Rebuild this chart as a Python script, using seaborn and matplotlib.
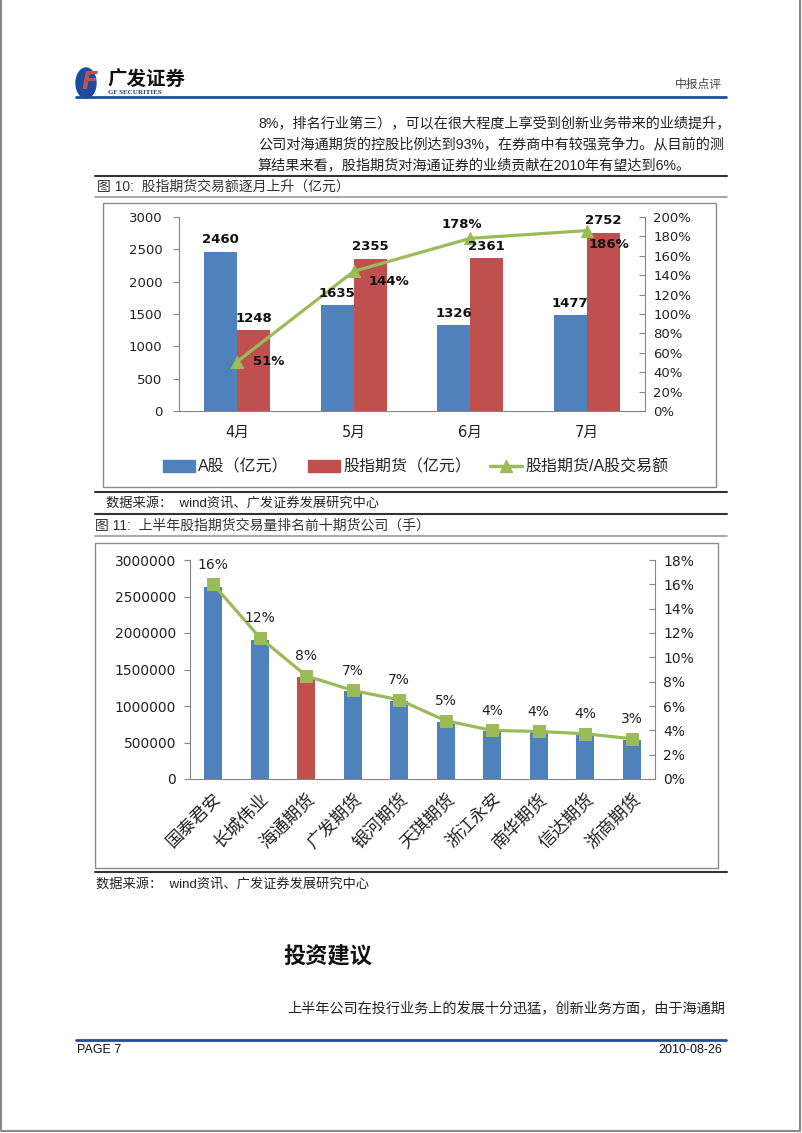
import numpy as np
import pandas as pd
import matplotlib
matplotlib.use('Agg')
import matplotlib.pyplot as plt
import seaborn as sns
from matplotlib.patches import Patch, Rectangle, Ellipse
from matplotlib.lines import Line2D
from matplotlib.ticker import PercentFormatter

# chart 10 data
months = ['4月', '5月', '6月', '7月']
a_share = [2460, 1635, 1326, 1477]
futures = [1248, 2355, 2361, 2752]
ratio = [0.51, 1.44, 1.78, 1.86]
ratio_labels = ['51%', '144%', '178%', '186%']

# chart 11 data
companies = ['国泰君安', '长城伟业', '海通期货', '广发期货', '银河期货',
             '天琪期货', '浙江永安', '南华期货', '信达期货', '浙商期货']
volume = [2634000, 1905000, 1395000, 1199000, 1062000,
          775000, 652000, 638000, 606000, 538000]
share = [0.160, 0.1163, 0.0848, 0.0728, 0.0651,
         0.0479, 0.0399, 0.0391, 0.0372, 0.0331]
share_labels = ['16%', '12%', '8%', '7%', '7%', '5%', '4%', '4%', '4%', '3%']

BLUE = '#4F81BD'
RED = '#C0504D'
GREEN = '#9BBB59'
AXIS = '#868686'
NAVY = '#1F4E9C'

W, H = 802, 1133

sns.set_style('white')
plt.rcParams['font.family'] = ['DejaVu Sans', 'Noto Sans CJK SC']
CJK = ['Liberation Sans', 'Noto Sans CJK SC']

fig = plt.figure(figsize=(W / 100, H / 100), dpi=100)


def fx(x):
    return x / W


def fy(y):
    return 1 - y / H


def hline(y, x0, x1, color, lw):
    fig.add_artist(Line2D([fx(x0), fx(x1)], [fy(y), fy(y)], transform=fig.transFigure,
                          color=color, lw=lw))


def text(x, y, s, **kw):
    kw.setdefault('family', CJK)
    kw.setdefault('va', 'center')
    fig.text(fx(x), fy(y), s, **kw)


# page frame
fig.add_artist(Line2D([fx(1), fx(1), fx(800), fx(800)], [fy(0), fy(1131), fy(1131), fy(0)],
                      transform=fig.transFigure, color='#8a8a8a', lw=1.5))

# header
fig.add_artist(Ellipse((fx(86), fy(83)), 20 / W, 30 / H, transform=fig.transFigure,
                       color='#1B4BA0'))
text(90, 82, 'F', color=RED, fontsize=17, fontweight='bold', style='italic', ha='center',
     family='DejaVu Sans')
text(107, 80, '广发证券', fontsize=14, fontweight='bold', color='#111111')
text(108, 93, 'GF SECURITIES', fontsize=5, fontweight='bold', color='#1B3A7A',
     family='Liberation Serif')
text(722, 85, '中报点评', fontsize=8.5, color='#444444', ha='right')
hline(97, 76, 726, NAVY, 2)

# paragraph
text(258, 124, '8%，排名行业第三），可以在很大程度上享受到创新业务带来的业绩提升，', fontsize=10.2, color='#222222')
text(258, 145, '公司对海通期货的控股比例达到93%，在券商中有较强竞争力。从目前的测', fontsize=10.2, color='#222222')
text(258, 166, '算结果来看，股指期货对海通证券的业绩贡献在2010年有望达到6%。', fontsize=10.2, color='#222222')

# figure 10 caption and frame
hline(176, 95, 727, '#333333', 1.5)
text(97, 187, '图 10:  股指期货交易额逐月上升（亿元）', fontsize=10, color='#333333')
hline(197, 95, 727, '#999999', 1.2)
fig.add_artist(Rectangle((fx(103), fy(487)), (716 - 103) / W, (487 - 203) / H,
                         transform=fig.transFigure, fill=False, ec='#8c8c8c', lw=1))

# chart 10
ax1 = fig.add_axes([fx(179), fy(411), (645 - 179) / W, (411 - 217) / H])
df1 = pd.DataFrame({'month': months * 2,
                    'value': a_share + futures,
                    'series': ['A股（亿元）'] * 4 + ['股指期货（亿元）'] * 4})
sns.barplot(data=df1, x='month', y='value', hue='series', palette=[BLUE, RED],
            width=0.57, gap=0, saturation=1, ax=ax1, legend=False, edgecolor='none')
ax1.set_xlim(-0.5, 3.5)
ax1.set_ylim(0, 3000)
ax1.set_yticks(range(0, 3001, 500))
ax1.set_xlabel('')
ax1.set_ylabel('')

ax1b = ax1.twinx()
sns.lineplot(x=np.arange(len(months)), y=ratio, ax=ax1b, color=GREEN, marker='^',
             markersize=9, markeredgecolor=GREEN, linewidth=2.3)
ax1b.set_ylim(0, 2.0)
ax1b.set_yticks(np.arange(0, 2.01, 0.2))
ax1b.yaxis.set_major_formatter(PercentFormatter(1.0, decimals=0))

# bar value labels drawn on the twin axes so they sit above the line
for c in ax1.containers:
    for p in c.patches:
        h = p.get_height()
        ax1b.annotate(f'{h:.0f}', (p.get_x() + p.get_width() / 2, h), xycoords=ax1.transData,
                      xytext=(0, 4), textcoords='offset points', ha='center', va='bottom',
                      fontsize=9.5, fontweight='bold', color='#111111')

ratio_offsets = [(11, 0, 'left'), (11, -7, 'left'), (-6, 10, 'center'), (1, -10, 'left')]
for i, (v, lab) in enumerate(zip(ratio, ratio_labels)):
    dx, dy, ha = ratio_offsets[i]
    ax1b.annotate(lab, (i, v), xytext=(dx, dy), textcoords='offset points', ha=ha, va='center',
                  fontsize=9.5, fontweight='bold', color='#111111')

for ax in (ax1, ax1b):
    for s in ax.spines.values():
        s.set_visible(False)
        s.set_color(AXIS)
ax1.spines['left'].set_visible(True)
ax1.spines['bottom'].set_visible(True)
ax1b.spines['right'].set_visible(True)
ax1.set_xticks(np.arange(-0.5, 4, 1), minor=True)
ax1.tick_params(axis='x', which='major', length=0, pad=10, labelsize=10.5, labelcolor='#222222')
ax1.tick_params(axis='x', which='minor', length=5, color=AXIS, direction='out')
ax1.tick_params(axis='y', length=4, color=AXIS, direction='out', labelsize=9.5, labelcolor='#222222', pad=8)
ax1b.tick_params(axis='y', length=4, color=AXIS, direction='in', labelsize=9.5, labelcolor='#222222', pad=6)

handles = [Patch(color=BLUE), Patch(color=RED),
           Line2D([], [], color=GREEN, marker='^', lw=2.5, markersize=8)]
fig.legend(handles, ['A股（亿元）', '股指期货（亿元）', '股指期货/A股交易额'], loc='center',
           bbox_to_anchor=(fx(416), fy(467)), ncol=3, frameon=False,
           handlelength=2.0, handletextpad=0.2, columnspacing=1.2, prop={'family': CJK, 'size': 11.5})

# source + figure 11 caption
hline(492, 95, 727, '#333333', 1.5)
text(106, 503, '数据来源：  wind资讯、广发证券发展研究中心', fontsize=9.5, color='#222222')
hline(514, 95, 727, '#333333', 1.5)
text(95, 526, '图 11:  上半年股指期货交易量排名前十期货公司（手）', fontsize=10, color='#333333')
hline(536, 95, 727, '#999999', 1.2)
fig.add_artist(Rectangle((fx(95), fy(868)), (718 - 95) / W, (868 - 543) / H,
                         transform=fig.transFigure, fill=False, ec='#8c8c8c', lw=1))

# chart 11
ax2 = fig.add_axes([fx(190), fy(779), (655 - 190) / W, (779 - 560) / H])
df2 = pd.DataFrame({'company': companies, 'volume': volume})
bar_colors = [RED if c == '海通期货' else BLUE for c in companies]
sns.barplot(data=df2, x='company', y='volume', hue='company', palette=bar_colors,
            width=0.385, saturation=1, ax=ax2, legend=False, edgecolor='none')
ax2.set_xlim(-0.5, len(companies) - 0.5)
ax2.set_ylim(0, 3000000)
ax2.set_yticks(range(0, 3000001, 500000))
ax2.set_yticklabels([str(v) for v in range(0, 3000001, 500000)])
ax2.set_xlabel('')
ax2.set_ylabel('')

ax2b = ax2.twinx()
sns.lineplot(x=np.arange(len(companies)), y=share, ax=ax2b, color=GREEN, marker='s',
             markersize=9, markeredgecolor=GREEN, linewidth=2.3)
ax2b.set_ylim(0, 0.18)
ax2b.set_yticks(np.arange(0, 0.1801, 0.02))
ax2b.yaxis.set_major_formatter(PercentFormatter(1.0, decimals=0))
for i, (v, lab) in enumerate(zip(share, share_labels)):
    ax2b.annotate(lab, (i, v), xytext=(0, 14), textcoords='offset points', ha='center',
                  va='center', fontsize=10, color='#222222')

for ax in (ax2, ax2b):
    for s in ax.spines.values():
        s.set_visible(False)
        s.set_color(AXIS)
ax2.spines['left'].set_visible(True)
ax2.spines['bottom'].set_visible(True)
ax2b.spines['right'].set_visible(True)
ax2.set_xticks(np.arange(-0.5, len(companies), 1), minor=True)
ax2.set_xticks(np.arange(len(companies)))
ax2.set_xticklabels(companies, rotation=45, ha='right', rotation_mode='anchor',
                    family=CJK, fontsize=12.5, color='#222222')
ax2.tick_params(axis='x', which='major', length=0, pad=8)
ax2.tick_params(axis='x', which='minor', length=5, color=AXIS, direction='out')
ax2.tick_params(axis='y', length=4, color=AXIS, direction='out', labelsize=10, labelcolor='#222222', pad=6)
ax2b.tick_params(axis='y', length=4, color=AXIS, direction='in', labelsize=10, labelcolor='#222222', pad=6)

hline(872, 95, 727, '#333333', 1.5)
text(96, 884, '数据来源：  wind资讯、广发证券发展研究中心', fontsize=9.5, color='#222222')

# section
text(283, 957, '投资建议', fontsize=16, fontweight='bold', color='#111111')
text(287, 1009, '上半年公司在投行业务上的发展十分迅猛，创新业务方面，由于海通期', fontsize=10.2, color='#222222')

# footer
hline(1040, 76, 726, NAVY, 2)
text(77, 1050, 'PAGE 7', fontsize=9, color='#111111', family='Liberation Sans')
text(722, 1050, '2010-08-26', fontsize=9, color='#111111', family='Liberation Sans', ha='right')

fig.savefig('out.png', dpi=100)
